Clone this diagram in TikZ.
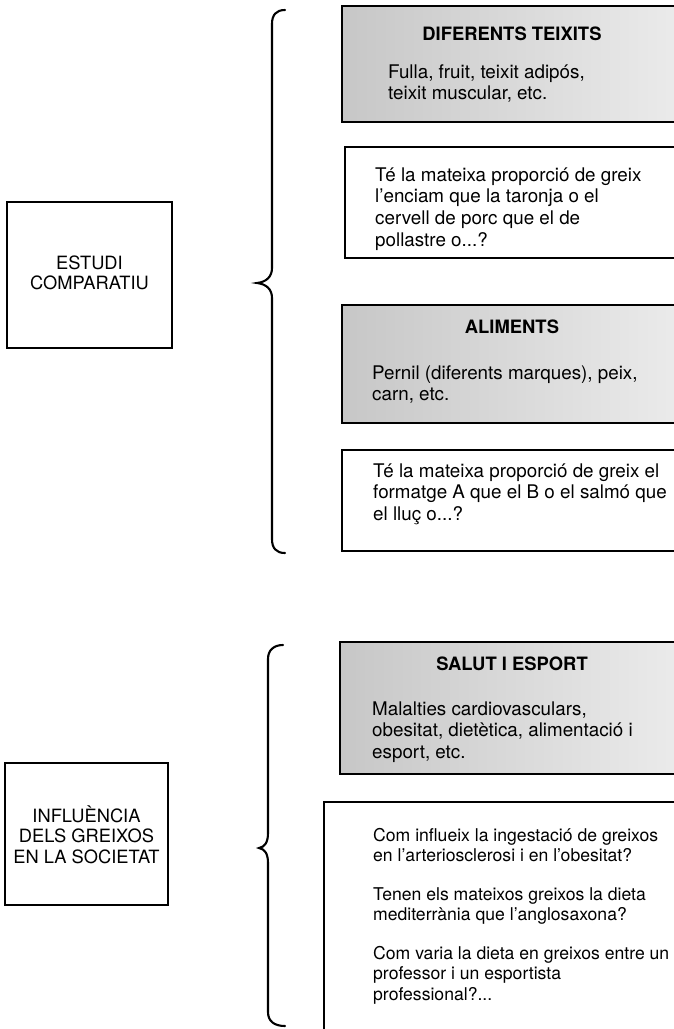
\documentclass[tikz,border=0pt]{standalone}
\usepackage{fontspec}
\setmainfont{TeX Gyre Heros}
\newcommand\bodysize{\fontsize{18.8}{21.7}\selectfont}
\newcommand\lowsize{\fontsize{17.6}{20.8}\selectfont}
\newcommand\headsize{\fontsize{18.4}{21}\selectfont\bfseries}
\newcommand\titlesize{\fontsize{18.3}{20.5}\selectfont}
% left-aligned and centred blocks whose baseline is the first line's baseline
\newcommand\llines[1]{\vtop{\halign{##\hfil\cr#1\crcr}}}
\newcommand\clines[1]{\vtop{\halign{\hfil##\hfil\cr#1\crcr}}}
\begin{document}
\begin{tikzpicture}[x=1pt,y=-1pt,
  panel/.style={draw=black, line width=1.8pt},
  shaded/.style={panel, left color=black!22, right color=black!7},
  topicbox/.style={draw=black, line width=1.6pt, inner sep=0pt},
  bracepath/.style={draw=black, line width=2.1pt, line cap=round},
  txt/.style={anchor=base west, inner sep=0pt, font=\bodysize},
  lowtxt/.style={anchor=base west, inner sep=0pt, font=\lowsize},
  head/.style={anchor=base, inner sep=0pt, font=\headsize},
  title/.style={anchor=base, inner sep=0pt, font=\titlesize}]
\useasboundingbox[fill=white] (0,0) rectangle (674,1029);
\clip (0,0) rectangle (674,1029);

% ---- left topic boxes ----
\node[topicbox, minimum width=165pt, minimum height=146pt] (estudi) at (89.5,275) {};
\node[title] (estuditxt) at (89.5,269) {\clines{ESTUDI\cr COMPARATIU}};

\node[topicbox, minimum width=163pt, minimum height=142pt] (influencia) at (86.5,834) {};
\node[title] (influenciatxt) at (86.5,822) {\clines{INFLUÈNCIA\cr DELS GREIXOS\cr EN LA SOCIETAT}};

% ---- braces ----
\path[bracepath] (285,10) .. controls (276,10) and (272,15) .. (272,24)
  -- (272,268) .. controls (272,277) and (266,282) .. (257,283)
  .. controls (266,284) and (272,289) .. (272,298)
  -- (272,539) .. controls (272,548) and (276,553) .. (285,553);
\path[bracepath] (283,645) .. controls (274,645) and (268,650) .. (268,659)
  -- (268,833) .. controls (268,842) and (265,847) .. (259,848)
  .. controls (265,849) and (268,854) .. (268,863)
  -- (268,1012) .. controls (268,1021) and (274,1026) .. (285,1026);

% ---- upper group ----
\path[shaded] (342,6) rectangle (700,122);
\node[head] (teixits) at (512,40) {DIFERENTS TEIXITS};
\node[txt] (teixitsbody) at (388,78) {\llines{Fulla, fruit, teixit adipós,\cr teixit muscular, etc.}};

\path[panel] (345,147) rectangle (700,258);
\node[txt] (q1) at (375,181) {\llines{Té la mateixa proporció de greix\cr
  l'enciam que la taronja o el\cr cervell de porc que el de\cr pollastre o...?}};

\path[shaded] (342,305) rectangle (700,423);
\node[head] (aliments) at (512,333) {ALIMENTS};
\node[txt] (alimentsbody) at (372,379) {\llines{Pernil (diferents marques), peix,\cr carn, etc.}};

\path[panel] (342,450) rectangle (700,551);
\node[txt] (q2) at (373,477) {\llines{Té la mateixa proporció de greix el\cr
  formatge A que el B o el salmó que\cr el lluç o...?}};

% ---- lower group ----
\path[shaded] (340,642) rectangle (700,774);
\node[head] (salut) at (512,670) {SALUT I ESPORT};
\node[txt] (salutbody) at (372,715) {\llines{Malalties cardiovasculars,\cr
  obesitat, dietètica, alimentació i\cr esport, etc.}};

\path[panel] (324,802) rectangle (700,1100);
\node[lowtxt] (q3) at (373,841) {\llines{Com influeix la ingestació de greixos\cr
  en l'arteriosclerosi i en l'obesitat?}};
\node[lowtxt] (q4) at (373,900) {\llines{Tenen els mateixos greixos la dieta\cr
  mediterrània que l'anglosaxona?}};
\node[lowtxt] (q5) at (373,959) {\llines{Com varia la dieta en greixos entre un\cr
  professor i un esportista\cr professional?...}};
\end{tikzpicture}
\end{document}
